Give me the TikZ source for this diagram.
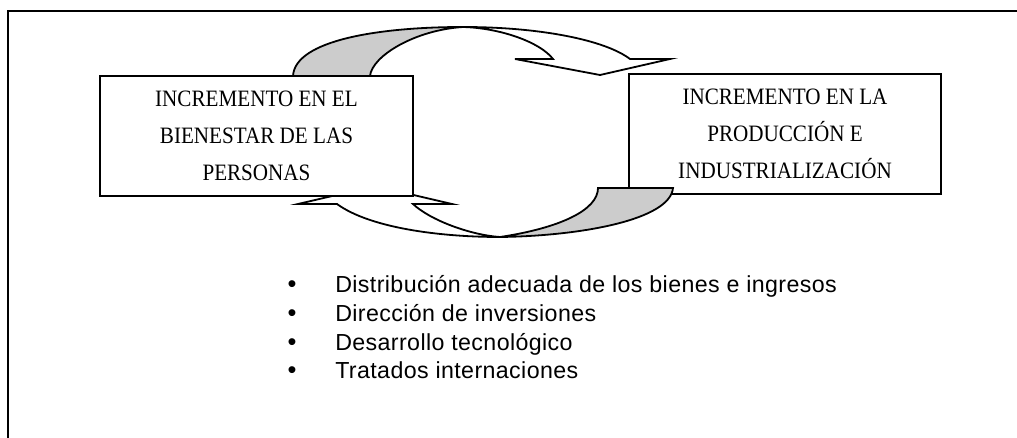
\documentclass[tikz,border=0pt]{standalone}
\usepackage{fontspec}
\setmainfont{Liberation Serif}
\newfontfamily\boxfont[FakeStretch=0.9]{Liberation Serif}
\newfontfamily\arialfont[LetterSpace=1.7]{Liberation Sans}
\newfontfamily\bulfont{Liberation Sans}
\definecolor{shade}{RGB}{204,204,204}
\begin{document}
\begin{tikzpicture}[x=0.75pt,y=-0.75pt,line join=miter,
  boxst/.style={draw,fill=white,line width=1.5pt,align=center,inner sep=0pt,
    font=\boxfont\fontsize{17.6pt}{27.75pt}\selectfont},
  arrowline/.style={draw,line width=1.35pt},
  itemst/.style={anchor=base west,inner sep=0pt,font=\arialfont\fontsize{17.4pt}{20pt}\selectfont},
  bulst/.style={anchor=base,inner sep=0pt,font=\bulfont\fontsize{19pt}{20pt}\selectfont}]
\useasboundingbox (0,0) rectangle (1017,438);
\clip (0,0) rectangle (1017,438);
% outer frame (only top and left visible)
\draw[line width=1.7pt] (8,470) -- (8,11) -- (1050,11);
% right box
\node[boxst,minimum width=234pt,minimum height=90pt] (prod) at (785,134)
  {INCREMENTO EN LA\\PRODUCCIÓN E\\INDUSTRIALIZACIÓN};
% top curved arrow: gray back part
\filldraw[arrowline,fill=shade] (293,76) .. controls (295,40) and (380,27) .. (463,27)
  .. controls (415,30) and (372,56) .. (370,76) -- cycle;
% top curved arrow: white front part with head
\filldraw[arrowline,fill=white] (463,27) .. controls (540,27) and (605,40) .. (630,59)
  -- (670,59) -- (600,75) -- (515,59) -- (553,59)
  .. controls (540,42) and (500,28) .. (463,27) -- cycle;
% bottom curved arrow: white front part with head
\filldraw[arrowline,fill=white] (500,237) .. controls (440,237) and (370,228) .. (337,204)
  -- (298,204) -- (375,186) -- (452,204) -- (413,204)
  .. controls (430,220) and (470,235) .. (500,237) -- cycle;
% bottom curved arrow: gray back part
\filldraw[arrowline,fill=shade] (500,237) .. controls (580,236) and (670,220) .. (673,188)
  -- (598,188) .. controls (598,210) and (560,228) .. (500,237) -- cycle;
% left box
\node[boxst,minimum width=234.75pt,minimum height=90pt] (bien) at (256.5,136)
  {INCREMENTO EN EL\\BIENESTAR DE LAS\\PERSONAS};
% bullet list
\node[bulst] (d1) at (292,292) {•};
\node[itemst] (t1) at (335,292) {Distribución adecuada de los bienes e ingresos};
\node[bulst] (d2) at (292,321) {•};
\node[itemst] (t2) at (335,321) {Dirección de inversiones};
\node[bulst] (d3) at (292,350) {•};
\node[itemst] (t3) at (335,350) {Desarrollo tecnológico};
\node[bulst] (d4) at (292,378) {•};
\node[itemst] (t4) at (335,378) {Tratados internaciones};
\end{tikzpicture}
\end{document}
